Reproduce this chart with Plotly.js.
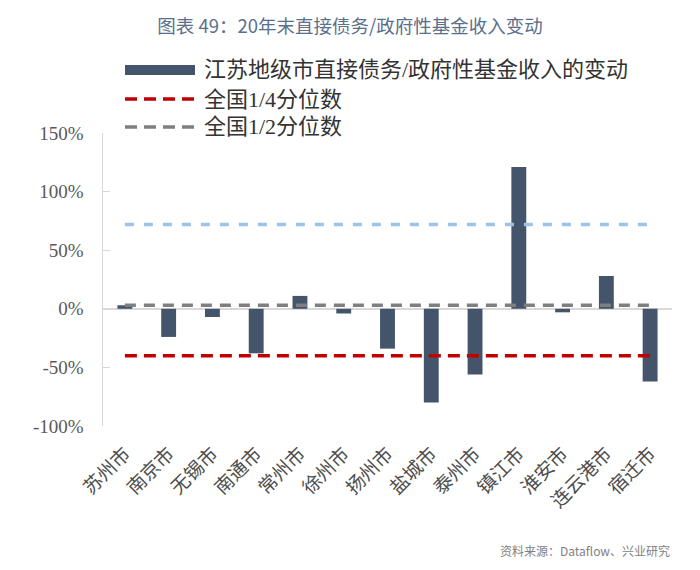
<!DOCTYPE html>
<html>
<head>
<meta charset="utf-8">
<script src="https://cdn.plot.ly/plotly-3.0.1.min.js"></script>
<style>
  html, body { margin: 0; padding: 0; background: #fff; }
  #chart { width: 700px; height: 570px; }
</style>
</head>
<body>
<div id="chart"></div>
<script>
// Values (percent).
const cities = ["苏州市", "南京市", "无锡市", "南通市", "常州市", "徐州市", "扬州市",
                "盐城市", "泰州市", "镇江市", "淮安市", "连云港市", "宿迁市"];
const change = [3, -24, -7, -38, 11, -4, -34, -80, -56, 121, -3, 28, -62];

const q25 = -40;   // 全国1/4分位数
const q50 = 3;     // 全国1/2分位数
const q75 = 72;    // light blue line, no legend entry

const yTicks = [-100, -50, 0, 50, 100, 150];

const SERIF = "Liberation Serif, Noto Sans CJK SC, serif";
const SANS = "Noto Sans CJK SC, sans-serif";

const ends = [cities[0], cities[cities.length - 1]];
const flat = v => [v, v];

const data = [
  {
    type: "bar", x: cities, y: change, width: 0.34,
    marker: { color: "#44546A", line: { width: 0 } },
    hoverinfo: "x+y",
  },
  {
    type: "scatter", mode: "lines", x: ends, y: flat(q75),
    line: { color: "#9DC3E6", width: 3.5, dash: "9px,10px" },
  },
  {
    type: "scatter", mode: "lines", x: ends, y: flat(q50),
    line: { color: "#7F7F7F", width: 3.5, dash: "11px,8px" },
  },
  {
    type: "scatter", mode: "lines", x: ends, y: flat(q25),
    line: { color: "#C00000", width: 3.5, dash: "12px,7px" },
  },
];

// Plot box in pixels: x 103..672, y 133..426
const PL = 103, PW = 569, PB = 426, PH = 426 - 133;
const px = x => (x - PL) / PW;
const py = y => (PB - y) / PH;

// Hand-drawn legend, matching the wide swatches of the original.
const legendRows = [
  { label: "江苏地级市直接债务/政府性基金收入的变动", y: 70, kind: "bar", color: "#44546A" },
  { label: "全国1/4分位数", y: 99, kind: "line", color: "#C00000" },
  { label: "全国1/2分位数", y: 127, kind: "line", color: "#7F7F7F" },
];
const shapes = [], annotations = [];
for (const r of legendRows) {
  if (r.kind === "bar") {
    shapes.push({ type: "rect", xref: "paper", yref: "paper",
      x0: px(125), x1: px(195), y0: py(r.y + 5), y1: py(r.y - 5),
      fillcolor: r.color, line: { width: 0 } });
  } else {
    shapes.push({ type: "line", xref: "paper", yref: "paper",
      x0: px(125), x1: px(195), y0: py(r.y), y1: py(r.y),
      line: { color: r.color, width: 3.5, dash: "12px,7px" } });
  }
  annotations.push({ xref: "paper", yref: "paper", x: px(202), y: py(r.y),
    xanchor: "left", yanchor: "middle", showarrow: false, text: r.label,
    font: { family: SERIF, size: 22, color: "#333" } });
}

annotations.push({
  xref: "paper", yref: "paper", x: px(672), y: py(550),
  xanchor: "right", yanchor: "middle", showarrow: false,
  text: "资料来源：Dataflow、兴业研究",
  font: { family: SANS, size: 12, color: "#7F7F7F" },
});

const layout = {
  width: 700, height: 570,
  paper_bgcolor: "#fff", plot_bgcolor: "#fff",
  margin: { l: 103, r: 28, t: 133, b: 144 },
  showlegend: false,
  title: {
    text: "图表 49：20年末直接债务/政府性基金收入变动",
    x: 0.5, xref: "container", xanchor: "center",
    y: 1 - 27 / 570, yref: "container", yanchor: "middle",
    font: { family: SANS, size: 18.5, color: "#5B6F8C" },
  },
  xaxis: {
    type: "category", range: [-0.5, cities.length - 0.5],
    tickangle: -45, showgrid: false, showline: false, ticks: "",
    ticklabelstandoff: 12,
    tickfont: { family: SERIF, size: 19, color: "#4D4D4D" },
  },
  yaxis: {
    range: [-100, 150], tickvals: yTicks, ticktext: yTicks.map(v => v + "%"),
    showgrid: false, zeroline: true, zerolinecolor: "#D9D9D9", zerolinewidth: 1.5,
    showline: true, linecolor: "#D9D9D9", linewidth: 1.5,
    ticks: "inside", ticklen: 7, tickcolor: "#D9D9D9",
    ticklabelstandoff: 14,
    tickfont: { family: SERIF, size: 19, color: "#595959" },
  },
  shapes, annotations,
};

Plotly.newPlot("chart", data, layout, { displayModeBar: false, staticPlot: true });
</script>
</body>
</html>
